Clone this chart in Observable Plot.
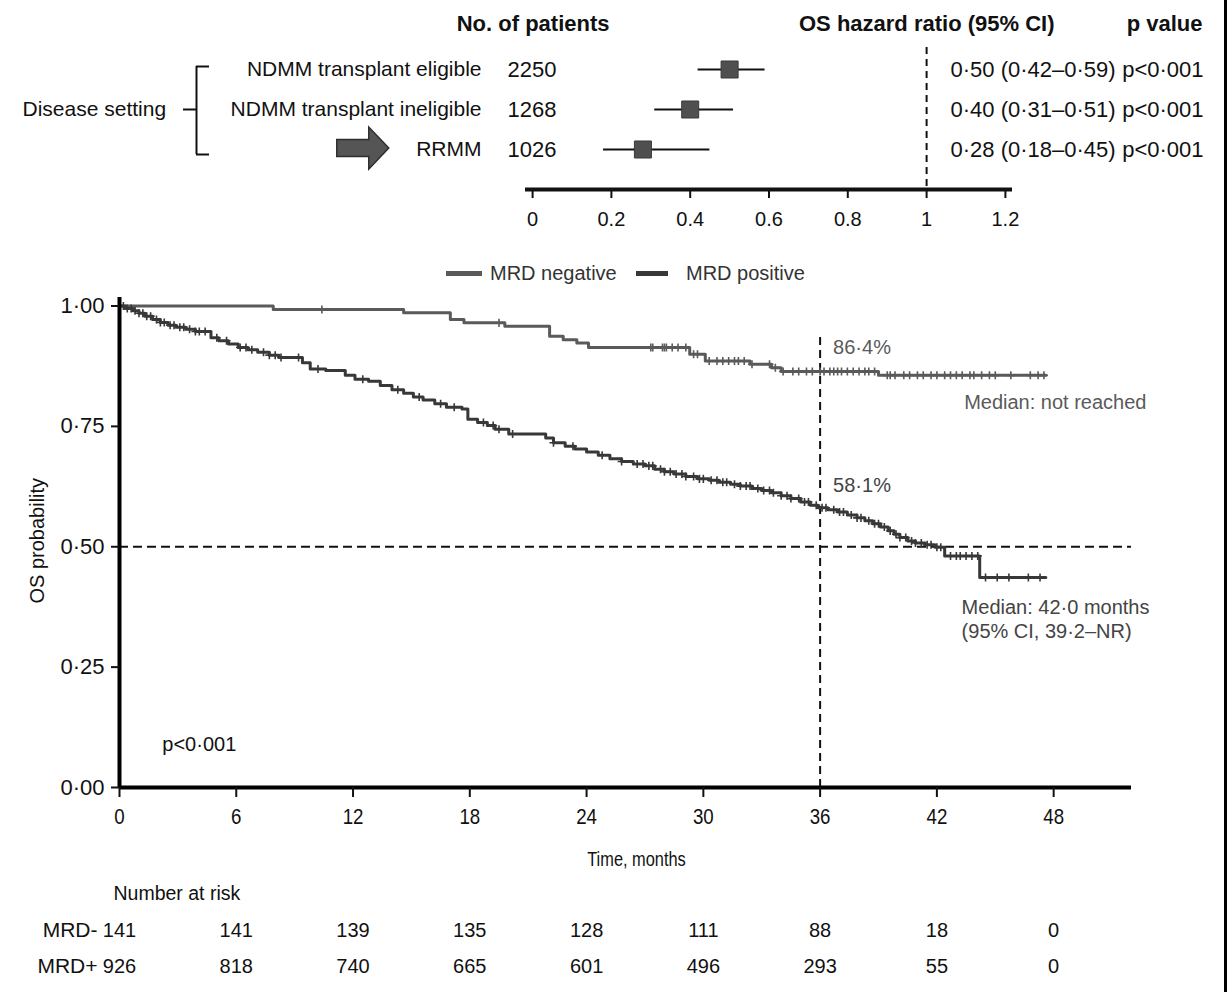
<!DOCTYPE html>
<html><head><meta charset="utf-8">
<script src="https://cdn.jsdelivr.net/npm/d3@7"></script>
<script src="https://cdn.jsdelivr.net/npm/@observablehq/plot@0.6"></script>
<style>
body{margin:0;background:#fff;}
#wrap{position:relative;width:1227px;height:992px;overflow:hidden;background:#fff;font-family:"Liberation Sans",Arial,sans-serif;}
#forest{position:absolute;left:0;top:0;}
#km{position:absolute;left:0;top:240px;}
#legend{position:absolute;top:262px;left:0;height:22px;width:1227px;font-size:20px;color:#333;}
.sw{position:absolute;height:5px;top:8.5px}
.lt{position:absolute;top:0;line-height:22px;white-space:nowrap}
#edge{position:absolute;left:1224px;top:0;width:3px;height:992px;background:#000}
</style></head><body>
<div id="wrap">
  <div id="forest"></div>
  <div id="km"></div>
  <div id="legend">
    <div class="sw" style="left:446px;width:36px;background:#5a5a5a"></div>
    <div class="lt" style="left:490px">MRD negative</div>
    <div class="sw" style="left:636px;width:32px;background:#383838"></div>
    <div class="lt" style="left:686px">MRD positive</div>
  </div>
  <div id="edge"></div>
</div>
<script>
// ---------- Forest plot data ----------
const settings = ["NDMM transplant eligible", "NDMM transplant ineligible", "RRMM"];
const nPatients = [2250, 1268, 1026];
const hrValues = [0.50, 0.40, 0.28];
const hrLow = [0.42, 0.31, 0.18];
const hrHigh = [0.59, 0.51, 0.45];
const pValues = ["p<0·001", "p<0·001", "p<0·001"];
const forestTicks = [0, 0.2, 0.4, 0.6, 0.8, 1, 1.2];

// ---------- KM data ----------
const negTime = [0, 7.9, 14.6, 17.0, 17.7, 19.8, 22.1, 22.8, 23.5, 24.1, 29.3, 30.1, 32.4, 33.5, 34.0, 39.0, 47.6];
const negSurv = [1.000, 0.993, 0.986, 0.972, 0.965, 0.958, 0.937, 0.930, 0.923, 0.914, 0.900, 0.886, 0.879, 0.872, 0.864, 0.856, 0.856];
const negCensor = [10.4, 19.5, 27.3, 27.4, 27.9, 28.0, 28.1, 28.4, 28.7, 29.1, 29.5, 29.7, 30.3, 30.7, 31.0, 31.3, 31.6, 31.8, 32.1, 32.5, 33.4, 33.7, 34.1, 34.6, 34.9, 35.3, 35.6, 36.0, 36.2, 36.5, 36.7, 36.9, 37.1, 37.4, 37.7, 38.0, 38.3, 38.5, 38.8, 39.45, 39.6, 39.85, 40.3, 40.6, 41.0, 41.3, 41.7, 42.0, 42.4, 42.7, 43.0, 43.3, 43.7, 43.9, 44.3, 44.7, 45.0, 45.8, 46.8, 47.2, 47.5];

const posTime = [0, 0.3, 0.7, 1.0, 1.3, 1.7, 2.1, 2.5, 2.9, 3.4, 3.9, 4.7, 5.1, 5.6, 6.1, 6.6, 7.1, 7.7, 8.2, 9.4, 9.8, 10.6, 11.6, 12.1, 12.8, 13.4, 14.0, 14.6, 15.1, 15.6, 16.2, 16.8, 17.6, 17.9, 18.4, 18.9, 19.3, 20.0, 21.9, 22.3, 22.9, 23.4, 24.0, 24.6, 25.2, 25.8, 26.4, 27.0, 27.5, 28.0, 28.5, 29.1, 29.7, 30.3, 30.8, 31.4, 31.9, 32.5, 33.0, 33.5, 34.0, 34.5, 35.0, 35.5, 35.9, 36.4, 36.9, 37.4, 37.9, 38.3, 38.7, 39.1, 39.5, 39.8, 40.1, 40.5, 40.9, 41.4, 41.9, 42.4, 44.2, 47.6];
const posSurv = [1.000, 0.995, 0.990, 0.985, 0.979, 0.972, 0.966, 0.960, 0.956, 0.952, 0.947, 0.934, 0.928, 0.921, 0.914, 0.909, 0.904, 0.898, 0.893, 0.882, 0.869, 0.866, 0.856, 0.848, 0.844, 0.835, 0.826, 0.819, 0.811, 0.805, 0.797, 0.790, 0.786, 0.765, 0.758, 0.752, 0.744, 0.734, 0.726, 0.716, 0.709, 0.703, 0.697, 0.690, 0.683, 0.677, 0.672, 0.668, 0.661, 0.656, 0.651, 0.646, 0.641, 0.638, 0.634, 0.630, 0.626, 0.621, 0.617, 0.612, 0.606, 0.600, 0.593, 0.586, 0.581, 0.577, 0.572, 0.566, 0.560, 0.554, 0.548, 0.541, 0.533, 0.526, 0.519, 0.512, 0.508, 0.504, 0.499, 0.481, 0.436, 0.436];
const posCensor = [0.2, 0.4, 0.6, 0.8, 1.0, 1.2, 1.4, 1.6, 1.9, 2.1, 2.3, 2.6, 2.8, 3.1, 3.3, 3.6, 3.9, 4.1, 4.4, 5.0, 5.5, 6.2, 6.5, 6.8, 7.4, 7.7, 8.0, 8.3, 9.2, 10.2, 12.5, 14.3, 15.4, 16.5, 17.2, 18.7, 19.2, 19.5, 20.2, 22.3, 23.3, 24.8, 25.8, 26.6, 26.9, 27.2, 27.4, 27.8, 28.0, 28.3, 28.6, 28.9, 29.1, 29.5, 29.8, 30.0, 30.4, 30.7, 31.0, 31.2, 31.6, 31.9, 32.2, 32.4, 32.8, 33.1, 33.4, 33.6, 34.0, 34.3, 34.5, 34.9, 35.2, 35.4, 35.8, 36.1, 36.3, 36.7, 37.0, 37.2, 37.6, 37.9, 38.1, 38.5, 38.8, 39.0, 39.3, 39.6, 39.9, 40.1, 40.4, 40.7, 40.9, 41.2, 41.5, 41.7, 42.0, 42.2, 42.7, 43.0, 43.2, 43.5, 43.8, 44.1, 44.5, 45.1, 45.7, 46.7, 47.3];

const landmarkTime = 36;
const landmarkNeg = 0.864;
const landmarkPos = 0.581;

const riskTimes = [0, 6, 12, 18, 24, 30, 36, 42, 48];
const riskNeg = [141, 141, 139, 135, 128, 111, 88, 18, 0];
const riskPos = [926, 818, 740, 665, 601, 496, 293, 55, 0];
const kmYTicks = [0, 0.25, 0.5, 0.75, 1];

// ---------- helpers ----------
const FONT = '"Liberation Sans", Arial, sans-serif';
const dot = v => v.replace(".", "·");
const f2 = v => dot(d3.format(".2f")(v));
function narrow(nodes, k) {
  nodes.forEach(el => {
    const t = el.getAttribute("transform") || "";
    el.setAttribute("transform", `${t} scale(${k},1)`);
  });
}

// ---------- Forest plot ----------
const rows = settings.map((s, i) => ({
  s, n: String(nPatients[i]), hr: hrValues[i], lo: hrLow[i], hi: hrHigh[i], r: i + 1,
  txt: `${f2(hrValues[i])} (${f2(hrLow[i])}–${f2(hrHigh[i])})`, p: pValues[i]
}));
const fxDom = [-0.018, 1.218];
const fyDom = [0.45, 4.0];
const arrowSymbol = {
  draw(ctx) {
    ctx.moveTo(-26, -8.5); ctx.lineTo(6, -8.5); ctx.lineTo(6, -21); ctx.lineTo(26, 0);
    ctx.lineTo(6, 21); ctx.lineTo(6, 8.5); ctx.lineTo(-26, 8.5); ctx.closePath();
  }
};
const bx = -0.853, bxEnd = -0.820, bNub = -0.886;

const forest = Plot.plot({
  width: 1227, height: 240,
  marginLeft: 525, marginRight: 215, marginTop: 47, marginBottom: 51,
  style: {fontFamily: FONT, fontSize: "20px", color: "#111", background: "transparent", overflow: "visible"},
  x: {domain: fxDom, axis: null},
  y: {domain: fyDom, reverse: true, axis: null},
  marks: [
    Plot.ruleX([1], {strokeDasharray: "7,5", strokeWidth: 2, stroke: "#111"}),
    Plot.ruleY([fyDom[1]], {strokeWidth: 4, stroke: "#111"}),
    Plot.axisX({ticks: forestTicks, tickFormat: d => String(d), label: null, tickSize: 9, tickPadding: 13, fontSize: 20, strokeWidth: 2}),
    Plot.ruleY(rows, {y: "r", x1: "lo", x2: "hi", strokeWidth: 2, stroke: "#111"}),
    Plot.dot(rows, {x: "hr", y: "r", symbol: "square", r: 9.6, fill: "#4f4f4f", stroke: "#3a3a3a", strokeWidth: 1}),
    Plot.text(rows, {y: "r", text: "s", frameAnchor: "left", dx: 481 - 525, textAnchor: "end", fontSize: 21}),
    Plot.text(rows, {y: "r", text: "n", frameAnchor: "left", dx: 507 - 525, textAnchor: "start", fontSize: 22}),
    Plot.text(rows, {y: "r", text: "txt", frameAnchor: "right", dx: 950 - 1012, textAnchor: "start", fontSize: 22}),
    Plot.text(rows, {y: "r", text: "p", frameAnchor: "right", dx: 1203 - 1012, textAnchor: "end", fontSize: 22}),
    Plot.text(["No. of patients"], {frameAnchor: "top-left", lineAnchor: "middle", dx: 609 - 525, dy: 23 - 47, textAnchor: "end", fontWeight: "bold", fontSize: 22}),
    Plot.text(["OS hazard ratio (95% CI)"], {frameAnchor: "top-right", lineAnchor: "middle", dx: 1054 - 1012, dy: 23 - 47, textAnchor: "end", fontWeight: "bold", fontSize: 22}),
    Plot.text(["p value"], {frameAnchor: "top-right", lineAnchor: "middle", dx: 1202 - 1012, dy: 23 - 47, textAnchor: "end", fontWeight: "bold", fontSize: 22}),
    Plot.text(["Disease setting"], {y: 2, frameAnchor: "left", dx: 22 - 525, textAnchor: "start", fontSize: 21}),
    Plot.ruleX([bx], {y1: 0.925, y2: 3.125, strokeWidth: 2, stroke: "#111"}),
    Plot.ruleY([0.925, 3.125], {x1: bx, x2: bxEnd, strokeWidth: 2, stroke: "#111"}),
    Plot.ruleY([2], {x1: bNub, x2: bx, strokeWidth: 2, stroke: "#111"}),
    Plot.dot([3], {x: -0.431, y: d => d, dy: -1.5, symbol: arrowSymbol, r: 1, fill: "#555", stroke: "#2e2e2e", strokeWidth: 1.5})
  ]
});
document.getElementById("forest").append(forest);

// ---------- KM plot ----------
const negRows = negTime.map((t, i) => ({t, s: negSurv[i]}));
const posRows = posTime.map((t, i) => ({t, s: posSurv[i]}));
const stepAt = (times, surv) => t => surv[Math.max(0, d3.bisectRight(times, t) - 1)];
const negAt = stepAt(negTime, negSurv), posAt = stepAt(posTime, posSurv);
const negC = negCensor.map(t => ({t, s: negAt(t)}));
const posC = posCensor.map(t => ({t, s: posAt(t)}));
const riskRows = riskTimes.map((t, i) => ({t, neg: String(riskNeg[i]), pos: String(riskPos[i])}));
const pct = v => dot((v * 100).toFixed(1)) + "%";

const kmXDom = [0, 52];
const kmYDom = [0, 1.0177];
const NEG = "#5a5a5a", POS = "#383838";

const km = Plot.plot({
  width: 1227, height: 752,
  marginLeft: 119, marginRight: 96, marginTop: 57, marginBottom: 205,
  style: {fontFamily: FONT, fontSize: "20px", color: "#111", background: "transparent", overflow: "visible"},
  x: {domain: kmXDom, axis: null},
  y: {domain: kmYDom, axis: null},
  marks: [
    Plot.ruleY([0.5], {strokeDasharray: "9,5", strokeWidth: 2, stroke: "#111"}),
    Plot.ruleX([landmarkTime], {y1: 0, y2: 0.94, strokeDasharray: "8,5", strokeWidth: 2, stroke: "#111"}),
    Plot.line(negRows, {x: "t", y: "s", curve: "step-after", stroke: NEG, strokeWidth: 3}),
    Plot.line(posRows, {x: "t", y: "s", curve: "step-after", stroke: POS, strokeWidth: 3}),
    Plot.dot(negC, {x: "t", y: "s", symbol: "plus", r: 2.7, stroke: NEG, strokeWidth: 1.6}),
    Plot.dot(posC, {x: "t", y: "s", symbol: "plus", r: 2.7, stroke: POS, strokeWidth: 1.6}),
    Plot.ruleX([0], {strokeWidth: 4, stroke: "#000"}),
    Plot.ruleY([0], {strokeWidth: 4, stroke: "#000"}),
    Plot.axisY({ticks: kmYTicks, tickFormat: f2, label: null, tickSize: 8, tickPadding: 7, fontSize: 22, strokeWidth: 2}),
    Plot.axisX({ticks: riskTimes, tickFormat: d => String(d), label: null, tickSize: 10, tickPadding: 11, fontSize: 22, strokeWidth: 2}),
    Plot.text(["OS probability"], {frameAnchor: "left", dx: 37 - 119, dy: 61, rotate: -90, fontSize: 20}),
    Plot.text(["Time, months"], {frameAnchor: "bottom", lineAnchor: "middle", dx: 11, dy: 72, fontSize: 21}),
    Plot.text([pct(landmarkNeg)], {x: landmarkTime, y: landmarkNeg, dx: 13, dy: -24, textAnchor: "start", fill: NEG, fontSize: 20}),
    Plot.text([pct(landmarkPos)], {x: landmarkTime, y: landmarkPos, dx: 13, dy: -22, textAnchor: "start", fill: "#444", fontSize: 20}),
    Plot.text(["Median: not reached"], {x: 43.4, y: 0.800, textAnchor: "start", fill: NEG, fontSize: 20}),
    Plot.text(["Median: 42·0 months"], {x: 43.27, y: 0.374, textAnchor: "start", fill: "#444", fontSize: 20}),
    Plot.text(["(95% CI, 39·2–NR)"], {x: 43.27, y: 0.324, textAnchor: "start", fill: "#444", fontSize: 20}),
    Plot.text(["p<0·001"], {x: 2.2, y: 0.089, textAnchor: "start", fill: "#111", fontSize: 20}),
    Plot.text(["Number at risk"], {x: 0, frameAnchor: "bottom", lineAnchor: "middle", dx: -6, dy: 106, textAnchor: "start", fontSize: 19.5}),
    Plot.text(["MRD-"], {x: 0, frameAnchor: "bottom", lineAnchor: "middle", dx: -22, dy: 143, textAnchor: "end", fontSize: 21}),
    Plot.text(["MRD+"], {x: 0, frameAnchor: "bottom", lineAnchor: "middle", dx: -22, dy: 179, textAnchor: "end", fontSize: 21}),
    Plot.text(riskRows, {x: "t", text: "neg", frameAnchor: "bottom", lineAnchor: "middle", dy: 143, fontSize: 20}),
    Plot.text(riskRows, {x: "t", text: "pos", frameAnchor: "bottom", lineAnchor: "middle", dy: 179, fontSize: 20})
  ]
});
document.getElementById("km").append(km);
// condensed lettering of the x axis, as in the reference
narrow(Array.from(km.querySelectorAll('g[aria-label="x-axis tick label"] text')), 0.85);
narrow(Array.from(km.querySelectorAll("text")).filter(el => el.textContent === "Time, months"), 0.78);
</script>
</body></html>
